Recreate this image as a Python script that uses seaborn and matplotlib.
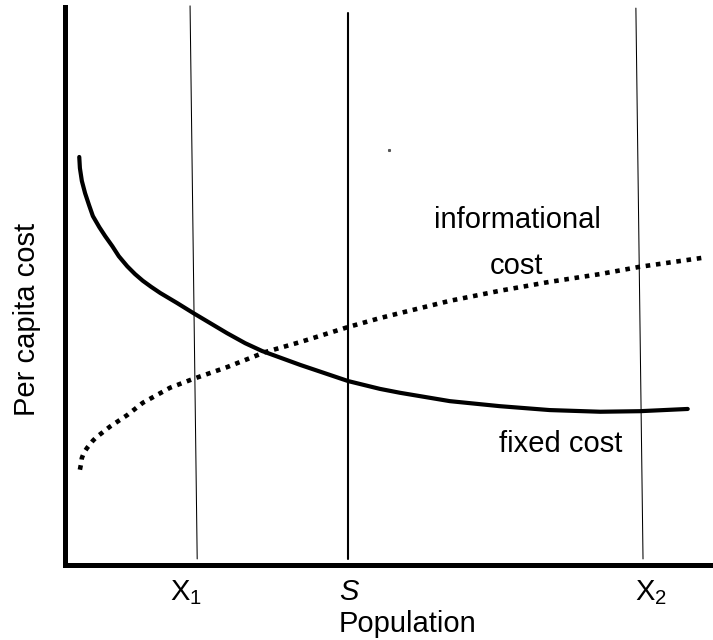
import numpy as np
import pandas as pd
import matplotlib
matplotlib.use("Agg")
import matplotlib.pyplot as plt
import seaborn as sns

# Population (0-100) vs per capita cost (0-100)
fixed_x = [2.2, 2.3, 2.6, 3.1, 3.7, 4.3, 5.3, 6.2, 7.3, 8.3, 9.6, 10.8, 12.0,
           13.3, 14.7, 17.3, 19.8, 22.4, 25.0, 27.8, 30.4, 36.3, 43.7, 48.6,
           51.7, 59.4, 67.1, 74.8, 82.6, 88.7, 96.1]
fixed_y = [73.1, 71.1, 68.8, 66.6, 64.5, 62.5, 60.5, 58.9, 57.1, 55.3, 53.5, 52.1, 50.9,
           49.8, 48.7, 46.9, 45.1, 43.3, 41.5, 39.7, 38.3, 35.8, 32.9, 31.5,
           30.8, 29.3, 28.4, 27.7, 27.4, 27.5, 27.9]

info_x = [2.3, 2.5, 2.6, 2.9, 3.4, 3.9, 4.3, 4.9, 5.7, 6.9, 9.6, 12.0, 16.2,
          19.8, 25.0, 30.9, 36.3, 43.7, 48.6, 51.7, 59.4, 67.1, 74.8, 82.6,
          88.7, 98.3]
info_y = [17.0, 18.2, 19.1, 20.0, 20.9, 21.6, 22.2, 22.9, 23.6, 24.7, 26.8, 29.0, 31.7,
          33.3, 35.4, 38.1, 39.9, 42.6, 44.2, 45.1, 47.3, 49.1, 50.7, 52.1,
          53.4, 55.0]

# reference lines X1, S, X2 (bottom / top x, they lean a little)
guide_names = ["X1", "S", "X2"]
guide_x_bottom = [20.4, 43.6, 89.2]
guide_x_top = [19.3, 43.6, 88.1]
guide_y_top = [100.2, 99.0, 99.8]
guide_y_bottom = 1.0

tick_labels = [r"$\mathregular{X_1}$", "S", r"$\mathregular{X_2}$"]
tick_pos = [18.7, 43.8, 90.4]

fixed_df = pd.DataFrame({"population": fixed_x, "cost": fixed_y})
info_df = pd.DataFrame({"population": info_x, "cost": info_y})

sns.set_style("white")
plt.rcParams["font.family"] = ["Liberation Sans", "DejaVu Sans"]
plt.rcParams["mathtext.fontset"] = "custom"
plt.rcParams["mathtext.rm"] = "Liberation Sans"
plt.rcParams["text.color"] = "black"
plt.rcParams["axes.labelcolor"] = "black"

fig = plt.figure(figsize=(7.13, 6.4), dpi=100)
ax = fig.add_axes([65 / 713, 75.5 / 640, 648 / 713, 557.5 / 640])

# vertical guides
for i, name in enumerate(guide_names):
    lw = 1.5 if name == "S" else 0.75
    ax.plot([guide_x_bottom[i], guide_x_top[i]], [guide_y_bottom, guide_y_top[i]],
            color="black", lw=lw, clip_on=False)

# curves
sns.lineplot(data=fixed_df, x="population", y="cost", ax=ax, color="black",
             lw=3.0, estimator=None, sort=False)
sns.lineplot(data=info_df, x="population", y="cost", ax=ax, color="black",
             lw=3.3, estimator=None, sort=False, linestyle=(0, (1, 1.25)),
             dash_capstyle="butt")

# small speck in the original
ax.plot([50.0], [74.3], marker="s", ms=1.2, color="#555555", lw=0)

ax.set_xlim(0, 100)
ax.set_ylim(0, 100)
ax.set_xticks([])
ax.set_yticks([])
for side in ["top", "right"]:
    ax.spines[side].set_visible(False)
for side in ["left", "bottom"]:
    ax.spines[side].set_linewidth(3.6)
    ax.spines[side].set_color("black")

fs = 21
xtrans = ax.get_xaxis_transform()
for pos, lab in zip(tick_pos, tick_labels):
    style = "italic" if lab == "S" else "normal"
    ax.text(pos, -0.0637, lab, transform=xtrans, ha="center", va="baseline",
            fontsize=fs, style=style)

ax.text(69.75, 60.4, "informational", ha="center", va="baseline", fontsize=fs)
ax.text(69.7, 52.1, "cost", ha="center", va="baseline", fontsize=fs)
ax.text(76.5, 20.2, "fixed cost", ha="center", va="baseline", fontsize=fs)

ax.set_xlabel("Population", fontsize=fs, va="baseline")
ax.xaxis.set_label_coords(0.528, -0.121)
ax.set_ylabel("Per capita cost", fontsize=fs, va="baseline")
ax.yaxis.set_label_coords(-0.0463, 0.4404)

fig.savefig("out.png", dpi=100)
